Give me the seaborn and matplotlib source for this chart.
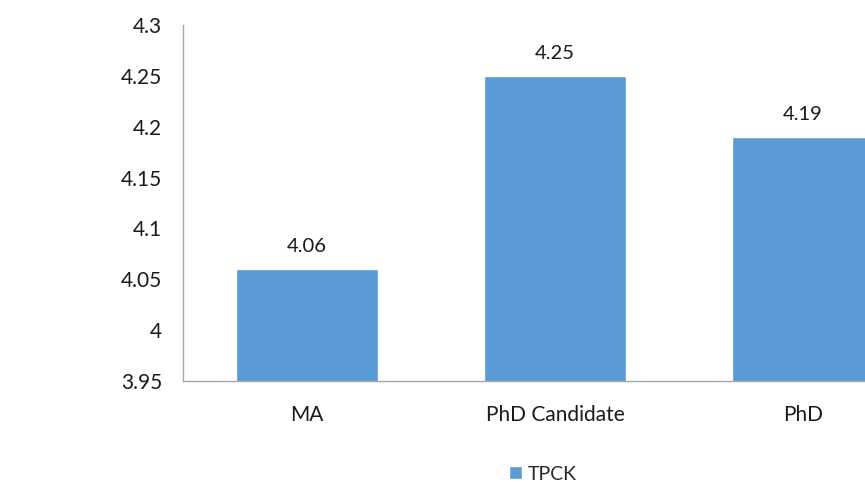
import pandas as pd
import matplotlib.pyplot as plt
import seaborn as sns

# data
categories = ['MA', 'PhD Candidate', 'PhD']
tpck = [4.06, 4.25, 4.19]
yticks = [3.95, 4.0, 4.05, 4.1, 4.15, 4.2, 4.25, 4.3]
ytick_labels = ['3.95', '4', '4.05', '4.1', '4.15', '4.2', '4.25', '4.3']

df = pd.DataFrame({'Level': categories, 'Score': tpck, 'Series': 'TPCK'})

sns.set_style('white')
plt.rcParams['font.family'] = ['Lato', 'DejaVu Sans']

bar_color = '#5B9BD5'
axis_color = '#A6A6A6'
text_color = '#1A1A1A'

fig = plt.figure(figsize=(8.65, 4.82), dpi=100)
# the plot area runs past the right edge of the picture (it is cropped there)
ax = fig.add_axes([0.2116, 0.2095, 0.860, 0.7386])

sns.barplot(data=df, x='Level', y='Score', hue='Series', palette=[bar_color],
            width=0.57, saturation=1, ax=ax, legend=True)

ax.set_ylim(3.95, 4.3)
ax.set_xlim(-0.5, 2.5)
ax.set_yticks(yticks)
ax.set_yticklabels(ytick_labels)
ax.set_xlabel('')
ax.set_ylabel('')
ax.tick_params(axis='both', length=0, labelsize=15, colors=text_color)
ax.tick_params(axis='y', pad=15)
ax.tick_params(axis='x', pad=17)

for side in ['top', 'right']:
    ax.spines[side].set_visible(False)
for side in ['left', 'bottom']:
    ax.spines[side].set_color(axis_color)
    ax.spines[side].set_linewidth(1.0)

for container in ax.containers:
    ax.bar_label(container, labels=[f'{v:.2f}' for v in tpck], padding=10,
                 fontsize=14.5, color=text_color)

ax.legend(loc='center', bbox_to_anchor=(543 / 865, 1 - 474 / 482),
          bbox_transform=fig.transFigure, frameon=False, fontsize=14,
          handlelength=0.65, handleheight=0.65, handletextpad=0.3)

fig.savefig('out.png', dpi=100)
plt.close(fig)
